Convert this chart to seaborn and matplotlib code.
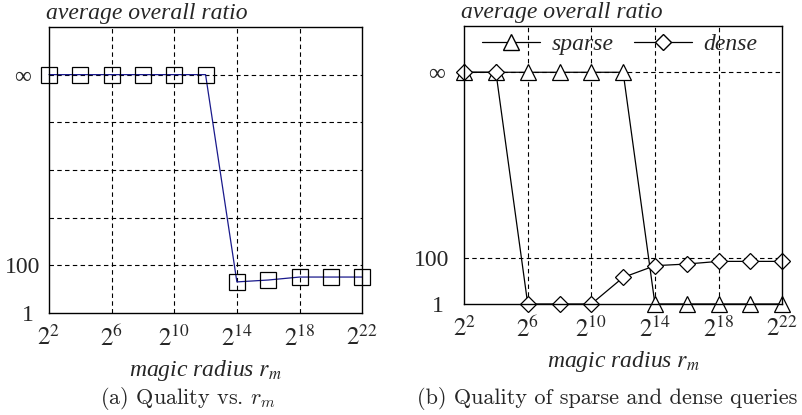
import matplotlib
matplotlib.use('Agg')
import matplotlib.pyplot as plt
from matplotlib.lines import Line2D
from matplotlib.transforms import ScaledTranslation
import numpy as np
import pandas as pd
import seaborn as sns

# Data (infinity drawn at 1e10 on the log axis)
INF = 1e10
exponents = [2, 4, 6, 8, 10, 12, 14, 16, 18, 20, 22]
ratio_all = [INF, INF, INF, INF, INF, INF, 20, 24, 32, 32, 32]
ratio_sparse = [INF, INF, INF, INF, INF, INF, 1, 1, 1, 1, 1]
ratio_dense = [INF, INF, 1, 1, 1, 14, 45, 53, 69, 69, 69]
xtick_exp = [2, 6, 10, 14, 18, 22]

sns.set_style('white')
plt.rcParams['font.family'] = ['Liberation Serif', 'DejaVu Serif']
plt.rcParams['mathtext.fontset'] = 'stix'

radius = [2.0 ** e for e in exponents]
df = pd.DataFrame({
    'radius': radius * 2,
    'ratio': ratio_sparse + ratio_dense,
    'kind': ['sparse'] * len(radius) + ['dense'] * len(radius),
})

fig = plt.figure(figsize=(8.03, 4.15), dpi=100)
ax1 = fig.add_axes([0.061, 0.246, 0.390, 0.689])
ax2 = fig.add_axes([0.578, 0.2675, 0.396, 0.670])

sns.lineplot(x=radius, y=ratio_all, ax=ax1, color='#1a1a8c', lw=0.9,
             marker='s', markersize=11, markerfacecolor='none',
             markeredgecolor='black', markeredgewidth=0.9, clip_on=False)

sns.lineplot(data=df, x='radius', y='ratio', hue='kind', style='kind',
             palette={'sparse': 'black', 'dense': 'black'},
             markers={'sparse': '^', 'dense': 'D'}, dashes=False,
             ax=ax2, lw=0.9, legend=False, clip_on=False)
for ln, sz in zip(ax2.lines, [11, 8]):
    ln.set_markerfacecolor('white')
    ln.set_markeredgecolor('black')
    ln.set_markeredgewidth(0.9)
    ln.set_markersize(sz)

grid_kw = dict(color='black', lw=0.8, ls=(0, (4, 3)))
for ax in (ax1, ax2):
    ax.set_xscale('log', base=2)
    ax.set_yscale('log')
    ax.set_xlim(2 ** 2, 2 ** 22)
    ax.set_ylim(1, 1e12)
    ax.set_xticks([2.0 ** e for e in xtick_exp])
    ax.set_xticklabels([r'$2^{%d}$' % e for e in xtick_exp])
    ax.minorticks_off()
    ax.tick_params(axis='x', labelsize=18, length=4, direction='in',
                   width=0.8, pad=9)
    for s in ax.spines.values():
        s.set_color('black')
        s.set_linewidth(1.0)
    for e in xtick_exp[1:-1]:
        ax.axvline(2.0 ** e, zorder=0, **grid_kw)
    ax.set_ylabel('')

ax1.set_xlabel(r'magic radius $r_m$', fontsize=17, style='italic', labelpad=5)
ax2.set_xlabel(r'magic radius $r_m$', fontsize=17, style='italic', labelpad=5)

ax1.set_yticks([1, 1e2, 1e4, 1e6, 1e8, 1e10])
ax1.set_yticklabels(['1', '100', '', '', '', '∞'])
ax1.tick_params(axis='y', labelsize=17, length=0, pad=6)
for v in [1e2, 1e4, 1e6, 1e8, 1e10]:
    ax1.axhline(v, zorder=0, **grid_kw)

ax2.set_yticks([1, 1e2, 1e10])
ax2.set_yticklabels(['1', '100', '∞'])
ax2.tick_params(axis='y', labelsize=17, length=0, pad=11)
for v in [1e2, 1e10]:
    ax2.axhline(v, zorder=0, **grid_kw)


def shift_label(lab, px):
    lab.set_transform(lab.get_transform() +
                      ScaledTranslation(-px / 100, 0, fig.dpi_scale_trans))


labs1 = ax1.get_yticklabels()
shift_label(labs1[0], 7)
shift_label(labs1[5], 10)
labs2 = ax2.get_yticklabels()
shift_label(labs2[0], 5)
shift_label(labs2[2], 4)

ax1.set_title('average overall ratio', fontsize=17, style='italic',
              loc='left', x=-0.01, pad=6)
ax2.set_title('average overall ratio', fontsize=17, style='italic',
              loc='left', x=-0.01, pad=6)

handles = [
    Line2D([], [], color='black', lw=0.9, marker='^', markersize=11,
           markerfacecolor='white', markeredgecolor='black'),
    Line2D([], [], color='black', lw=0.9, marker='D', markersize=8,
           markerfacecolor='white', markeredgecolor='black'),
]
ax2.legend(handles, ['sparse', 'dense'], ncol=2, frameon=False,
           loc='upper center', bbox_to_anchor=(0.49, 1.05),
           prop={'size': 17, 'style': 'italic'}, handlelength=2.45,
           columnspacing=0.85, handletextpad=0.5)

fig.text(0.234, 0.040, r'(a) Quality vs. $r_m$', ha='center', va='center',
         family='cmr10', math_fontfamily='cm', fontsize=16)
fig.text(0.756, 0.040, '(b) Quality of sparse and dense queries',
         ha='center', va='center', family='cmr10', fontsize=16)

fig.savefig('out.png', dpi=100)
